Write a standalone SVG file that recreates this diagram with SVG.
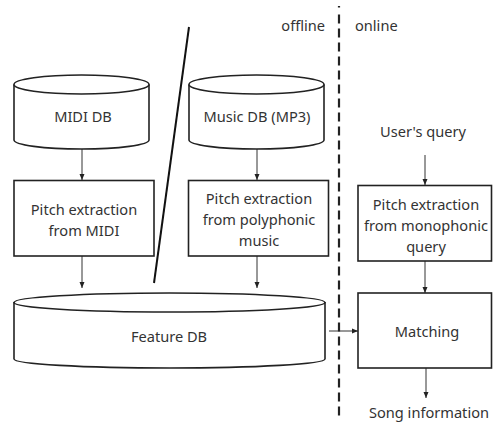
<svg xmlns="http://www.w3.org/2000/svg" width="493" height="425" viewBox="0 0 493 425">
<defs>
<style>
.s{fill:#fff;stroke:#222;stroke-width:1.6}
.t{font-family:"Noto Sans","Open Sans",sans-serif;font-size:14.6px;fill:#333;text-anchor:middle}
.c{stroke:#333;stroke-width:1;fill:none;marker-end:url(#a)}
</style>
<marker id="a" viewBox="0 0 6 6" refX="6" refY="3" markerWidth="6" markerHeight="6" markerUnits="userSpaceOnUse" orient="auto">
<path d="M0,0.5 L6,3 L0,5.5 Z" fill="#222"/>
</marker>
</defs>
<rect width="493" height="425" fill="#fff"/>
<g id="connectors">
<line class="c" x1="82" y1="149" x2="82" y2="180"/>
<line class="c" x1="82" y1="256" x2="82" y2="288"/>
<line class="c" x1="257" y1="149" x2="257" y2="180"/>
<line class="c" x1="257" y1="256" x2="257" y2="288"/>
<line class="c" x1="425" y1="155" x2="425" y2="185"/>
<line class="c" x1="425" y1="261" x2="425" y2="293"/>
<line class="c" x1="329" y1="331" x2="358" y2="331"/>
<line class="c" x1="426" y1="368" x2="426" y2="398"/>
</g>
<g id="separator">
<line x1="189" y1="27" x2="154" y2="283" stroke="#111" stroke-width="2"/>
<line x1="339" y1="6" x2="339" y2="420" stroke="#222" stroke-width="2.2" stroke-dasharray="1.5 7 9 5 9 5 9 5 9 5 9 5 9 5 9 5 9 5 9 5 9 5 9 5 9 5 9 5 9 5 9 5 9 5 9 5 9 5 9 5 9 5 9 5 9 5 9 5 9 5 9 5 9 5 9 5 9 5 9 5 9 5 9 5 9 5 9 5 9 5 9 5 9 5 9 5"/>
<text class="t" x="325" y="31" style="text-anchor:end">offline</text>
<text class="t" x="355" y="31" style="text-anchor:start">online</text>
</g>
<g id="midi-db">
<path class="s" d="M14,84.5 V140 A67.5,9 0 0 0 149,140 V84.5"/>
<ellipse class="s" cx="81.5" cy="84.5" rx="67.5" ry="9.5"/>
<text class="t" x="83" y="122">MIDI DB</text>
</g>
<g id="music-db">
<path class="s" d="M189,84.5 V140 A67.5,9 0 0 0 324,140 V84.5"/>
<ellipse class="s" cx="256.5" cy="84.5" rx="67.5" ry="9.5"/>
<text class="t" x="257" y="122">Music DB (MP3)</text>
</g>
<g id="pitch-midi">
<rect class="s" x="14" y="180.5" width="140" height="75.5"/>
<text class="t" x="84" y="215">Pitch extraction</text>
<text class="t" x="84" y="236">from MIDI</text>
</g>
<g id="pitch-poly">
<rect class="s" x="188.5" y="180.5" width="140" height="75.5"/>
<text class="t" x="259" y="204">Pitch extraction</text>
<text class="t" x="259" y="225">from polyphonic</text>
<text class="t" x="259" y="246">music</text>
</g>
<g id="feature-db">
<path class="s" d="M14,302 V359 A155.5,9 0 0 0 325,359 V302"/>
<ellipse class="s" cx="169.5" cy="302.5" rx="155.5" ry="9.5"/>
<text class="t" x="169" y="342">Feature DB</text>
</g>
<g id="users-query">
<text class="t" x="423" y="137">User's query</text>
</g>
<g id="pitch-mono">
<rect class="s" x="358" y="185.5" width="133.5" height="75.5"/>
<text class="t" x="426" y="210">Pitch extraction</text>
<text class="t" x="426" y="231">from monophonic</text>
<text class="t" x="426" y="252">query</text>
</g>
<g id="matching">
<rect class="s" x="358" y="293" width="133.5" height="75"/>
<text class="t" x="427" y="337">Matching</text>
</g>
<g id="song-info">
<text class="t" x="429" y="418">Song information</text>
</g>
</svg>
